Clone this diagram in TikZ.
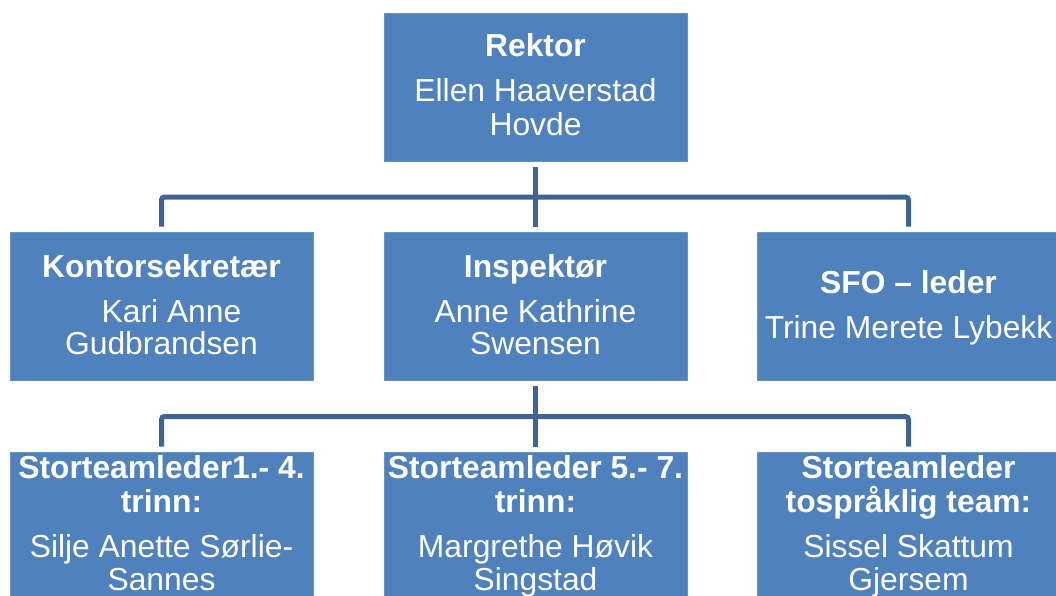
\documentclass[tikz,border=0pt]{standalone}
\usepackage{fontspec}
\setmainfont{Liberation Sans}
\definecolor{boxblue}{HTML}{4F81BD}
\definecolor{connblue}{RGB}{62,100,148}
\begin{document}
\begin{tikzpicture}[x=1pt,y=-1pt,
  box/.style={rectangle,fill=boxblue,draw=boxblue!85!white,line width=0.8pt,minimum width=303pt,minimum height=148pt,inner sep=0pt},
  conn/.style={draw=connblue,line width=5pt},
  ttl/.style={anchor=base,text=white,inner sep=0pt,font=\fontsize{31.8}{34}\selectfont\bfseries},
  nm/.style={anchor=base,text=white,inner sep=0pt,font=\fontsize{31.8}{34}\selectfont}]
\useasboundingbox (0,0) rectangle (1056,596);
\clip (0,0) rectangle (1056,596);
% boxes
\node[box] (rektor) at (535.5,87) {};
\node[box] (kontor) at (161.5,306) {};
\node[box] (insp) at (535.5,306) {};
\node[box] (sfo) at (908.5,306) {};
\node[box] (st1) at (161.5,526) {};
\node[box] (st2) at (535.5,526) {};
\node[box] (st3) at (908.5,526) {};
% connectors
\coordinate (hub1) at (535.5,197);
\coordinate (hub2) at (535.5,416.5);
\draw[conn] ([yshift=-6pt]rektor.south) -- ([yshift=5pt]insp.north);
\draw[conn,rounded corners=3pt] ([yshift=5pt]kontor.north) |- (hub1) -| ([yshift=5pt]sfo.north);
\draw[conn] ([yshift=-6pt]insp.south) -- ([yshift=5pt]st2.north);
\draw[conn,rounded corners=3pt] ([yshift=5pt]st1.north) |- (hub2) -| ([yshift=5pt]st3.north);
% texts
\node[ttl] (t1a) at (535.5,57) {Rektor};
\node[nm] (t1b) at (535.5,102) {Ellen Haaverstad};
\node[nm] (t1c) at (535.5,136) {Hovde};
\node[ttl] (t2a) at (161.5,277) {Kontorsekretær};
\node[nm] (t2b) at (171.5,322) {Kari Anne};
\node[nm] (t2c) at (161.5,354) {Gudbrandsen};
\node[ttl] (t3a) at (535.5,277) {Inspektør};
\node[nm] (t3b) at (535.5,322) {Anne Kathrine};
\node[nm] (t3c) at (535.5,354) {Swensen};
\node[ttl] (t4a) at (908.5,293) {SFO – leder};
\node[nm] (t4b) at (908.5,338) {Trine Merete Lybekk};
\node[ttl] (t5a) at (161.5,478) {Storteamleder1.- 4.};
\node[ttl] (t5b) at (161.5,512) {trinn:};
\node[nm] (t5c) at (161.5,557) {Silje Anette Sørlie-};
\node[nm] (t5d) at (161.5,590) {Sannes};
\node[ttl] (t6a) at (535.5,478) {Storteamleder 5.- 7.};
\node[ttl] (t6b) at (535.5,512) {trinn:};
\node[nm] (t6c) at (535.5,557) {Margrethe Høvik};
\node[nm] (t6d) at (535.5,590) {Singstad};
\node[ttl] (t7a) at (908.5,478) {Storteamleder};
\node[ttl] (t7b) at (908.5,512) {tospråklig team:};
\node[nm] (t7c) at (908.5,557) {Sissel Skattum};
\node[nm] (t7d) at (908.5,590) {Gjersem};
\end{tikzpicture}
\end{document}
